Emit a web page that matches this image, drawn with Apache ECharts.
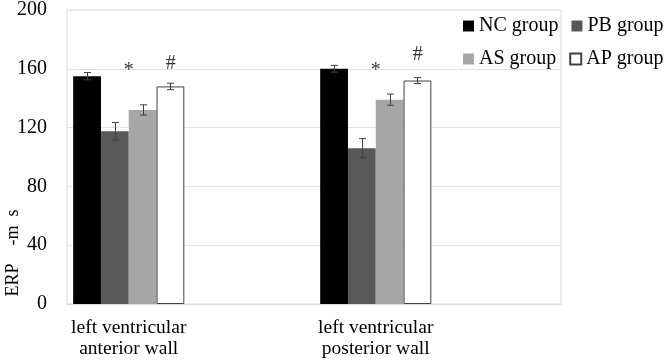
<!DOCTYPE html>
<html>
<head>
<meta charset="utf-8">
<script src="https://cdn.jsdelivr.net/npm/echarts@6/dist/echarts.min.js"></script>
<style>
  html, body { margin: 0; padding: 0; background: #fff; }
  #chart { width: 666px; height: 364px; }
</style>
</head>
<body>
<div id="chart"></div>
<script>
// categories (two blank slots keep each group in the left part of its half, like the original)
const categories = ['left ventricular\nanterior wall', '', 'left ventricular\nposterior wall', ''];
const seriesNames = ['NC group', 'PB group', 'AS group', 'AP group'];

const ncValues = [155, null, 160, null];
const pbValues = [117.5, null, 106, null];
const asValues = [132, null, 139, null];
const apValues = [148, null, 152, null];

const ncErr = [2.5, null, 2.3, null];
const pbErr = [6, null, 6.5, null];
const asErr = [3.5, null, 3.8, null];
const apErr = [2.2, null, 2, null];

// significance marks
const starValues = [159, null, 159, null];
const hashValues = [163.5, null, 169.5, null];

const yTicks = [0, 40, 80, 120, 160, 200];

const font = "'Liberation Serif', 'Times New Roman', serif";
const colors = ['#000000', '#585858', '#a6a6a6', '#ffffff'];
const catGap = 0.1;

const chart = echarts.init(document.getElementById('chart'), null, { renderer: 'canvas' });

function barSeries(name, data, idx) {
  return {
    name: name,
    type: 'bar',
    data: data,
    barGap: '0%',
    barCategoryGap: (catGap * 100) + '%',
    itemStyle: idx === 3
      ? { color: colors[idx], borderColor: '#404040', borderWidth: 1 }
      : { color: colors[idx] },
    z: 2
  };
}

function errSeries(values, errs, idx) {
  const data = [];
  values.forEach((v, i) => {
    if (v != null) data.push([i, v, errs[i], idx]);
  });
  return {
    type: 'custom',
    z: 5,
    silent: true,
    data: data,
    renderItem: function (params, api) {
      const c = api.coord([api.value(0), api.value(1)]);
      const band = api.size([1, 0])[0];
      const bw = band * (1 - catGap) / 4;
      const x = Math.round(c[0] + (api.value(3) - 1.5) * bw) + 0.5;
      const hi = api.coord([api.value(0), api.value(1) + api.value(2)])[1];
      const lo = api.coord([api.value(0), api.value(1) - api.value(2)])[1];
      const cap = 3.5;
      const st = { stroke: '#404040', lineWidth: 1 };
      return {
        type: 'group',
        children: [
          { type: 'line', shape: { x1: x, y1: hi, x2: x, y2: lo }, style: st },
          { type: 'line', shape: { x1: x - cap, y1: hi, x2: x + cap, y2: hi }, style: st },
          { type: 'line', shape: { x1: x - cap, y1: lo, x2: x + cap, y2: lo }, style: st }
        ]
      };
    }
  };
}

function markSeries(values, text, offset) {
  return {
    type: 'scatter',
    data: values,
    symbolSize: 1,
    itemStyle: { color: 'transparent' },
    silent: true,
    z: 6,
    label: {
      show: true,
      position: 'inside',
      formatter: text,
      offset: offset,
      color: '#000',
      fontFamily: font,
      fontSize: 20
    }
  };
}

const opt = {
  animation: false,
  grid: {
    left: 67,
    right: 105,
    top: 10,
    bottom: 60,
    outerBoundsMode: 'none',
    containLabel: false,
    show: true,
    borderColor: '#d9d9d9',
    borderWidth: 1
  },
  legend: {
    data: seriesNames,
    left: 463,
    top: 16,
    width: 230,
    padding: 0,
    itemWidth: 11,
    itemHeight: 11,
    itemGap: 13,
    icon: 'rect',
    selectedMode: false,
    formatter: '{a|{name}}',
    textStyle: {
      fontFamily: font,
      fontSize: 20,
      color: '#000',
      rich: { a: { fontFamily: font, fontSize: 20, color: '#000', width: 82 } }
    }
  },
  xAxis: {
    type: 'category',
    data: categories,
    axisTick: { show: false },
    axisLine: { lineStyle: { color: '#d9d9d9' } },
    axisLabel: {
      interval: 0,
      margin: 13,
      color: '#000',
      fontFamily: font,
      fontSize: 19.5,
      lineHeight: 21.5
    }
  },
  yAxis: {
    type: 'value',
    min: yTicks[0],
    max: yTicks[yTicks.length - 1],
    interval: yTicks[1] - yTicks[0],
    name: 'ERP    -m  s',
    nameLocation: 'middle',
    nameRotate: 90,
    nameGap: 45,
    nameMoveOverlap: false,
    nameTextStyle: {
      fontFamily: font,
      fontSize: 18,
      color: '#000',
      padding: [0, 192, 0, 0]
    },
    axisLine: { show: false },
    axisTick: { show: false },
    splitLine: { lineStyle: { color: '#e3e3e3' } },
    axisLabel: {
      margin: 20,
      color: '#000',
      fontFamily: font,
      fontSize: 20
    }
  },
  series: [
    barSeries(seriesNames[0], ncValues, 0),
    barSeries(seriesNames[1], pbValues, 1),
    barSeries(seriesNames[2], asValues, 2),
    barSeries(seriesNames[3], apValues, 3),
    errSeries(ncValues, ncErr, 0),
    errSeries(pbValues, pbErr, 1),
    errSeries(asValues, asErr, 2),
    errSeries(apValues, apErr, 3),
    markSeries(starValues, '*', [0, 0]),
    markSeries(hashValues, '#', [42, 0])
  ]
};

chart.setOption(opt);
</script>
</body>
</html>
